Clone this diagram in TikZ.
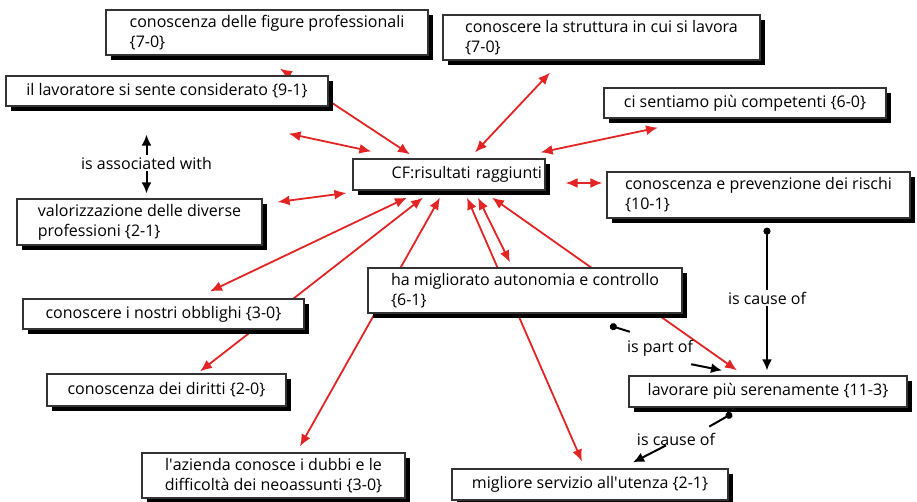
\documentclass[tikz,border=0pt]{standalone}
\usepackage{fontspec}
\setmainfont{Open Sans}
\usetikzlibrary{arrows.meta,shadows,backgrounds}

\definecolor{linkred}{RGB}{226,36,36}
\newcommand{\mapfont}{\fontsize{16}{20}\selectfont}

\tikzset{
  concept/.style={draw=black!80, fill=white, line width=1.2pt, align=left,
    inner xsep=6pt, inner ysep=3pt, font=\mapfont,
    general shadow={fill=black, shadow xshift=5pt, shadow yshift=-5pt}},
  phrase/.style={inner sep=2pt, font=\mapfont},
  redlink/.style={draw=linkred, line width=1.8pt,
    {Latex[length=12pt,width=10pt]}-{Latex[length=12pt,width=10pt]}},
  blacklink/.style={draw=black, line width=2pt, -{Latex[length=11pt,width=10pt]}},
  rootlink/.style={draw=black, line width=2pt, {Circle[length=7pt]}-},
}

\begin{document}
\begin{tikzpicture}[x=1pt,y=-1pt]
    \useasboundingbox (0,0) rectangle (917,501);

    % concepts
    \node[concept, minimum width=322pt, minimum height=45pt] (figure) at (267,32.5) {conoscenza delle figure professionali\\\{7-0\}};
    \node[concept, minimum width=317pt, minimum height=45pt] (strut) at (601.5,37.5) {conoscere la struttura in cui si lavora\\\{7-0\}};
    \node[concept, minimum width=282pt, minimum height=30pt] (comp) at (745,103) {ci sentiamo più competenti \{6-0\}};
    \node[concept, minimum width=322pt, minimum height=30pt] (lav) at (167,91) {il lavoratore si sente considerato \{9-1\}};
    \node[concept, text width=186pt, inner xsep=3pt, align=right, minimum height=31pt] (cf) at (449,174.5) {CF:risultati raggiunti};
    \node[concept, minimum width=303pt, minimum height=46pt] (rischi) at (758.5,195) {conoscenza e prevenzione dei rischi\\\{10-1\}};
    \node[concept, minimum width=245pt, minimum height=46pt] (valor) at (139.5,222) {valorizzazione delle diverse\\professioni \{2-1\}};
    \node[concept, minimum width=281pt, minimum height=30pt] (obbl) at (163.5,314) {conoscere i nostri obblighi \{3-0\}};
    \node[concept, minimum width=239pt, minimum height=32pt] (dir) at (166.5,390) {conoscenza dei diritti \{2-0\}};
    \node[concept, align=center, minimum width=263pt, minimum height=45pt] (az) at (273.5,475.5) {l\textquotesingle azienda conosce i dubbi e le\\difficoltà dei neoassunti \{3-0\}};
    \node[concept, minimum width=314pt, minimum height=45pt] (auto) at (525,290.5) {ha migliorato autonomia e controllo\\\{6-1\}};
    \node[concept, minimum width=278pt, minimum height=31pt] (seren) at (768,391.5) {lavorare più serenamente \{11-3\}};
    \node[concept, minimum width=276pt, minimum height=31pt] (ut) at (590,484.5) {migliore servizio all\textquotesingle utenza \{2-1\}};

    % linking phrases
    \node[phrase] (assoc) at (146.5,163) {is associated with};
    \node[phrase] (cause1) at (767,298) {is cause of};
    \node[phrase] (partof) at (660,348) {is part of};
    \node[phrase] (cause2) at (676,439) {is cause of};

    \begin{scope}[on background layer]
        % red links round the root concept
        \draw[redlink] ([xshift=-39pt,yshift=4pt]cf.north) -- ([xshift=13pt,yshift=-13pt]figure.south);
        \draw[redlink] ([xshift=19pt,yshift=7pt]cf.north west) -- ([xshift=-40pt,yshift=-27pt]lav.south east);
        \draw[redlink] ([xshift=26pt,yshift=6pt]cf.north) -- ([xshift=-51.5pt,yshift=-12pt]strut.south);
        \draw[redlink] ([xshift=-5pt,yshift=6pt]cf.north east) -- ([xshift=-87pt,yshift=-9pt]comp.south);
        \draw[redlink] ([xshift=20pt,yshift=-8.5pt]cf.east) -- ([xshift=-4pt,yshift=12pt]rischi.west);
        \draw[redlink] ([xshift=-6pt,yshift=-18.5pt]cf.west) -- ([xshift=15pt,yshift=20pt]valor.east);
        \draw[redlink] ([xshift=-42pt,yshift=-7pt]cf.south) -- ([xshift=46.5pt,yshift=7pt]obbl.north);
        \draw[redlink] ([xshift=-26pt,yshift=-7pt]cf.south) -- ([xshift=33.5pt,yshift=2pt]dir.north);
        \draw[redlink] ([xshift=-9pt,yshift=-7pt]cf.south) -- ([xshift=26.5pt,yshift=6pt]az.north);
        \draw[redlink] ([xshift=18pt,yshift=-7pt]cf.south) -- ([xshift=-8pt,yshift=7pt]ut.north);
        \draw[redlink] ([xshift=29pt,yshift=-7pt]cf.south) -- ([xshift=-15pt,yshift=5pt]auto.north);
        \draw[redlink] ([xshift=43pt,yshift=-7pt]cf.south) -- ([xshift=-31pt,yshift=5pt]seren.north);
    \end{scope}

    % black links through the phrases
    \draw[blacklink, shorten >=28pt] (assoc.north) -- (assoc.north |- lav.south);
    \draw[blacklink, shorten >=5pt] (assoc.south) -- (assoc.south |- valor.north);
    \draw[rootlink, shorten <=9pt] (cause1.north |- rischi.south) -- (cause1.north);
    \draw[blacklink, shorten >=5pt] (cause1.south) -- (cause1.south |- seren.north);
    \draw[rootlink] ([xshift=85pt,yshift=-12pt]auto.south) -- ([xshift=5pt,yshift=6pt]partof.north west);
    \draw[blacklink] ([xshift=-4pt,yshift=-6pt]partof.south east) -- ([xshift=-46pt,yshift=5pt]seren.north);
    \draw[rootlink] ([xshift=-36pt,yshift=-6pt]seren.south) -- ([xshift=-8pt,yshift=4pt]cause2.north east);
    \draw[blacklink] ([xshift=-10pt,yshift=2pt]cause2.south) -- ([xshift=43pt,yshift=6pt]ut.north);
\end{tikzpicture}
\end{document}
